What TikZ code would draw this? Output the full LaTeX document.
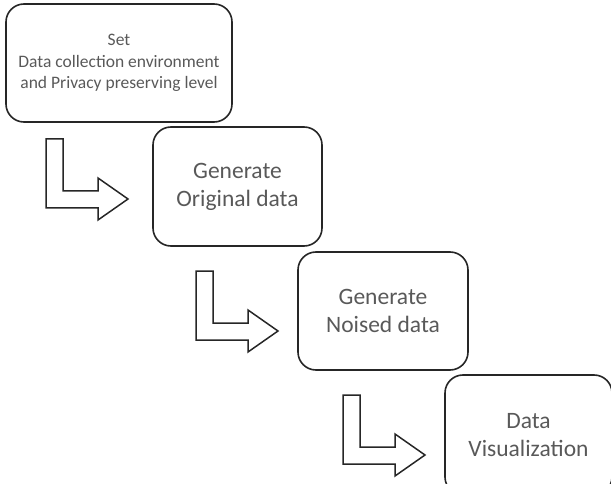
\documentclass[tikz,border=0pt]{standalone}
\usepackage{fontspec}
\setmainfont{Carlito}
\begin{document}
\begin{tikzpicture}[x=1pt,y=-1pt,
  box/.style={draw=black!85, line width=1.6pt, rounded corners=18pt, align=center,
    text=black!65, inner sep=0pt},
  bigtext/.style={font=\fontsize{23.5}{28}\selectfont},
  blockarrow/.style={draw=black!85, line width=1.5pt, fill=white, line join=miter},
  larrow/.pic={\draw[blockarrow] (0,0) -- (17,0) -- (17,52) -- (52,52) -- (52,39)
     -- (82,60) -- (52,81) -- (52,69) -- (0,69) -- cycle;}]
\useasboundingbox (0,0) rectangle (611,484);
\clip (0,0) rectangle (611,484);
\node[box, minimum width=226pt, minimum height=118pt,
  font=\fontsize{17.5}{21.5}\selectfont] (set) at (119,63)
  {Set\\Data collection environment\\and Privacy preserving level};
\node[box, bigtext, minimum width=169pt, minimum height=119pt] (orig) at (237.5,186.5)
  {Generate\\Original data};
\node[box, bigtext, minimum width=170pt, minimum height=118pt] (noised) at (383,311)
  {Generate\\Noised data};
\node[box, bigtext, minimum width=167pt, minimum height=120pt] (vis) at (528.5,435)
  {Data\\Visualization};
\pic (a1) at (46,139) {larrow};
\pic (a2) at (196,271) {larrow};
\pic (a3) at (343,395) {larrow};
\end{tikzpicture}
\end{document}
